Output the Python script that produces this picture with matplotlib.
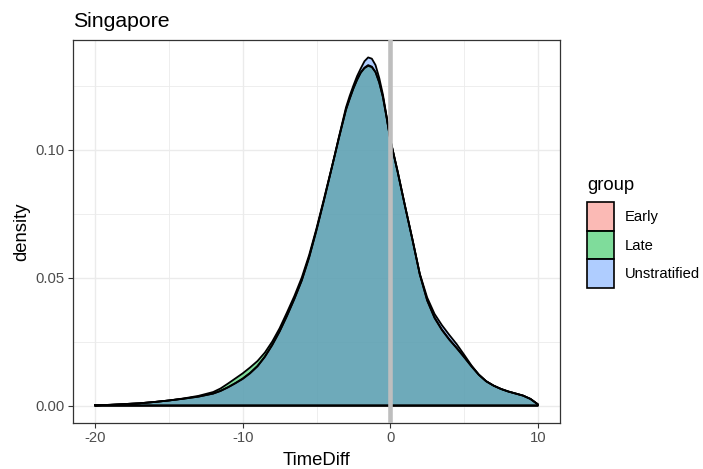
import matplotlib
matplotlib.use("Agg")
import matplotlib.pyplot as plt
from matplotlib.patches import Patch

plt.rcParams['font.family'] = ['Liberation Sans', 'DejaVu Sans']

# ---- data ----
time_diff = [-20, -19, -18, -17, -16, -15, -14, -13, -12,
             -11.5, -11, -10.5, -10, -9.5, -9, -8.5, -8, -7.5, -7, -6.5, -6, -5.5, -5, -4.5, -4,
             -3.75, -3.5, -3.25, -3, -2.75, -2.5, -2.25, -2, -1.75, -1.5, -1.25, -1, -0.75, -0.5, -0.25, 0,
             0.5, 1, 1.5, 2, 2.5, 3, 3.5, 4, 4.5, 5, 5.5, 6, 6.5, 7, 7.5, 8, 8.5, 9, 9.5, 10]

early = [0.0001, 0.0003, 0.0006, 0.0009, 0.0014, 0.0020, 0.0027, 0.0035, 0.0047,
         0.0057, 0.0071, 0.0087, 0.0104, 0.0126, 0.0153, 0.0190, 0.0236, 0.0289, 0.0350, 0.0416, 0.0488, 0.0578, 0.0685, 0.0800, 0.0920,
         0.0980, 0.1040, 0.1098, 0.1155, 0.1198, 0.1238, 0.1272, 0.1300, 0.1318, 0.1327, 0.1322, 0.1302, 0.1262, 0.1205, 0.1125, 0.1038,
         0.0912, 0.0778, 0.0648, 0.0512, 0.0410, 0.0342, 0.0295, 0.0257, 0.0224, 0.0189, 0.0153, 0.0120, 0.0095, 0.0078, 0.0065, 0.0055, 0.0047, 0.0039, 0.0026, 0.0005]

late = [0.0001, 0.0003, 0.0006, 0.0009, 0.0014, 0.0020, 0.0028, 0.0038, 0.0053,
        0.0067, 0.0086, 0.0106, 0.0126, 0.0149, 0.0174, 0.0207, 0.0250, 0.0302, 0.0364, 0.0428, 0.0500, 0.0588, 0.0692, 0.0806, 0.0923,
        0.0982, 0.1042, 0.1100, 0.1158, 0.1200, 0.1240, 0.1274, 0.1302, 0.1320, 0.1330, 0.1324, 0.1303, 0.1263, 0.1206, 0.1126, 0.1039,
        0.0913, 0.0779, 0.0649, 0.0513, 0.0412, 0.0344, 0.0297, 0.0259, 0.0226, 0.0191, 0.0154, 0.0121, 0.0095, 0.0078, 0.0065, 0.0055, 0.0047, 0.0039, 0.0026, 0.0005]

unstratified = [0.0001, 0.0003, 0.0006, 0.0009, 0.0014, 0.0020, 0.0027, 0.0035, 0.0047,
                0.0058, 0.0072, 0.0088, 0.0106, 0.0128, 0.0155, 0.0192, 0.0238, 0.0291, 0.0352, 0.0418, 0.0490, 0.0580, 0.0687, 0.0802, 0.0921,
                0.0982, 0.1045, 0.1105, 0.1165, 0.1210, 0.1250, 0.1287, 0.1317, 0.1345, 0.1360, 0.1355, 0.1330, 0.1280, 0.1215, 0.1130, 0.1040,
                0.0915, 0.0780, 0.0650, 0.0515, 0.0422, 0.0358, 0.0314, 0.0276, 0.0240, 0.0199, 0.0157, 0.0121, 0.0095, 0.0078, 0.0065, 0.0055, 0.0047, 0.0039, 0.0026, 0.0005]

groups = ["Early", "Late", "Unstratified"]
series = [early, late, unstratified]
colors = ["#F8766D", "#00BA38", "#619CFF"]

x_ticks = [-20, -10, 0, 10]
x_minor = [-15, -5, 5]
y_ticks = [0.00, 0.05, 0.10]
y_tick_labels = ["0.00", "0.05", "0.10"]
y_minor = [0.025, 0.075, 0.125]

# ---- figure ----
fig = plt.figure(figsize=(7.03, 4.69), dpi=100)
ax = fig.add_axes([73 / 703, 46 / 469, 487 / 703, 383 / 469])

ax.set_xlim(-21.5, 11.5)
ax.set_ylim(-0.0068, 0.1428)

grid_col = "#EBEBEB"
for v in x_ticks:
    ax.axvline(v, color=grid_col, lw=1.0, zorder=0)
for v in x_minor:
    ax.axvline(v, color=grid_col, lw=0.6, zorder=0)
for v in y_ticks:
    ax.axhline(v, color=grid_col, lw=1.0, zorder=0)
for v in y_minor:
    ax.axhline(v, color=grid_col, lw=0.6, zorder=0)

for name, ys, c in zip(groups, series, colors):
    xs = list(time_diff) + [time_diff[-1], time_diff[0]]
    yy = list(ys) + [0.0, 0.0]
    ax.fill(xs, yy, facecolor=c, alpha=0.5, edgecolor="none", zorder=2)
    ax.plot(xs + [xs[0]], yy + [yy[0]], color="black", lw=1.3, zorder=3,
            solid_joinstyle="round")

ax.axvline(0, color="#BEBEBE", lw=3.3, zorder=4)

ax.set_xticks(x_ticks)
ax.set_xticklabels([str(v) for v in x_ticks])
ax.set_yticks(y_ticks)
ax.set_yticklabels(y_tick_labels)
ax.tick_params(axis="both", colors="#333333", length=3.3, width=0.8,
               labelsize=10.7, labelcolor="#4D4D4D", pad=2.5)

for s in ax.spines.values():
    s.set_color("#333333")
    s.set_linewidth(0.9)

ax.set_xlabel("TimeDiff", fontsize=13.3, color="black", labelpad=5)
ax.set_ylabel("density", fontsize=13.3, color="black", labelpad=4)
ax.set_title("Singapore", loc="left", fontsize=15.3, color="black", pad=9)

handles = [Patch(facecolor=(*matplotlib.colors.to_rgb(c), 0.5), edgecolor="black", lw=1.2)
           for c in colors]
leg = fig.legend(handles, groups, loc="upper left",
                 bbox_to_anchor=(587 / 703, 1 - 177 / 469),
                 frameon=False, fontsize=10.6, title="group", title_fontsize=13.3,
                 handlelength=1.85, handleheight=2.6, handletextpad=0.7,
                 labelspacing=0.0, borderpad=0, borderaxespad=0)
leg._legend_box.align = "left"
leg._legend_box.sep = 6

fig.savefig("out.png", dpi=100)
